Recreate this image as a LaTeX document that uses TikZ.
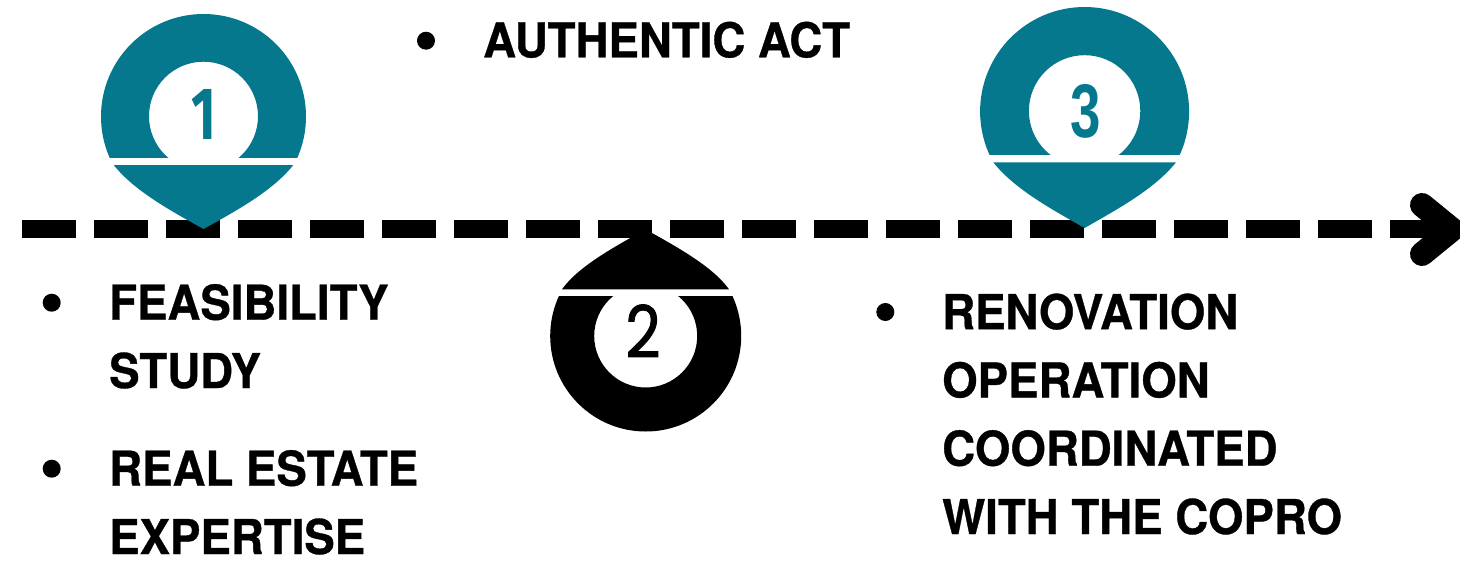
\documentclass[tikz,border=0pt]{standalone}
\usepackage{fontspec}
\setmainfont{TeX Gyre Heros}[FakeStretch=0.95,BoldFeatures={FakeBold=0.7}]
\newfontfamily\numone{Fira Sans}[FakeStretch=0.72]
\newfontfamily\numfont{Liberation Sans}[FakeStretch=0.72]
\newfontfamily\numtwo{Poppins}[FakeStretch=0.85,FakeBold=1.2]
\definecolor{pinteal}{HTML}{05788E}
\tikzset{
  lbl/.style={anchor=base west,align=left,inner sep=0pt,font=\fontsize{48pt}{68.3pt}\selectfont\bfseries,text=black},
  bullet/.style={circle,fill=black,inner sep=0pt,minimum size=18pt},
  num/.style={inner sep=0pt,text=pinteal}
}
\newcommand{\pinhead}[7]{% cx cy R r cut colour innercy
  \begin{scope}
    \clip ({#1-#3-2},{#2-#3-2}) rectangle ({#1+#3+2},#5);
    \fill[#6,even odd rule] (#1,#2) circle[radius=#3] (#1,#7) circle[radius=#4];
  \end{scope}}
\begin{document}
\begin{tikzpicture}[x=1pt,y=-1pt]
\useasboundingbox (0,0) rectangle (1460,560);
% timeline
\foreach \i in {0,...,19}{
  \fill[black] ({21.7+72*\i},220) rectangle ({75.7+72*\i},238);
}
\coordinate (tipA) at (1422,205);
\coordinate (tipB) at (1452,229.5);
\coordinate (tipC) at (1422,254);
\draw[black,line width=24pt,line cap=round,line join=round] (tipA) -- (tipB) -- (tipC);
% pin 1
\pinhead{203.5}{116.5}{102.5}{54.5}{157}{pinteal}{116.2}
\fill[pinteal] (113.7,165) .. controls (135,192) and (175,213) .. (203.5,229) .. controls (232,213) and (272,192) .. (293.3,165) -- cycle;
% pin 3
\pinhead{1084.6}{111.5}{104.5}{55.7}{154.7}{pinteal}{110.9}
\fill[pinteal] (993.3,162.3) .. controls (1015,190) and (1055,211) .. (1084.6,228) .. controls (1114,211) and (1154,190) .. (1176,162.3) -- cycle;
% pin 2
\begin{scope}
  \clip (548,296) rectangle (744,434);
  \fill[black,even odd rule] (645.7,336) circle[radius=95.5] (645.7,336) circle[radius=51.5];
\end{scope}
\fill[black] (562,289.3) .. controls (578,267) and (612,248) .. (645.7,229.5) .. controls (679,248) and (713,267) .. (729,289.3) -- cycle;
% numbers
\node[num,font=\fontsize{74pt}{74pt}\selectfont\numone\bfseries] (n1) at (204,114) {1};
\node[num,font=\fontsize{76pt}{76pt}\selectfont\numfont\bfseries] (n3) at (1085.5,111) {3};
\node[inner sep=0pt,text=black,font=\fontsize{72pt}{72pt}\selectfont\numtwo] (n2) at (643,331) {2};
% bullets
\node[bullet] (b0) at (426,40.7) {};
\node[bullet] (b1) at (51.7,302.7) {};
\node[bullet] (b2) at (51.7,468.7) {};
\node[bullet] (b3) at (885.3,312) {};
% labels
\node[lbl] (t0) at (483,57.3) {AUTHENTIC ACT};
\node[lbl] (t1) at (109,388) {FEASIBILITY\\STUDY};
\node[lbl] (t2) at (109,554) {REAL ESTATE\\EXPERTISE};
\node[lbl] (t3) at (942,534) {RENOVATION\\OPERATION\\COORDINATED\\WITH THE COPRO};
\end{tikzpicture}
\end{document}
